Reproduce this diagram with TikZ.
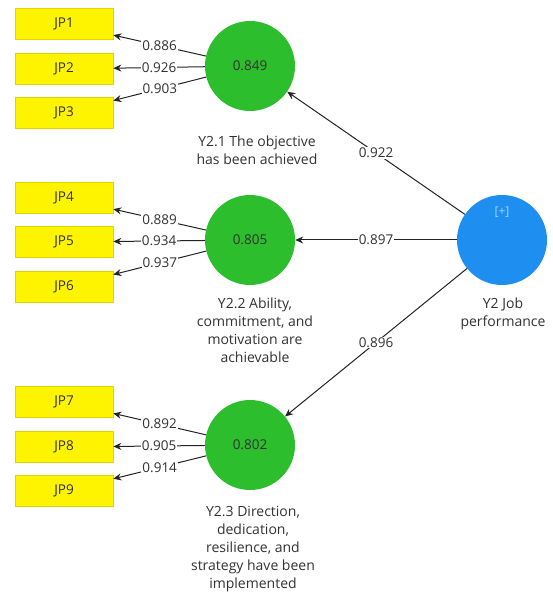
\documentclass[tikz,border=0pt]{standalone}
\usepackage{fontspec}
\setmainfont{Open Sans}
\usetikzlibrary{arrows.meta}
\definecolor{boxyellow}{RGB}{255,244,0}
\definecolor{boxedge}{RGB}{225,210,0}
\definecolor{lvgreen}{RGB}{45,190,45}
\definecolor{lvblue}{RGB}{30,143,240}
\definecolor{txt}{RGB}{50,50,50}
\definecolor{linec}{RGB}{35,35,35}
\definecolor{plus}{RGB}{170,210,255}
\tikzset{
  indbox/.style={draw=boxedge, line width=0.6pt, fill=boxyellow, minimum width=98pt, minimum height=31pt, inner sep=0pt, font=\fontsize{13.5}{15}\selectfont, text=txt},
  greenlv/.style={circle, fill=lvgreen, minimum size=90pt, inner sep=0pt, font=\fontsize{13.5}{15}\selectfont, text=txt},
  bluelv/.style={circle, fill=lvblue, minimum size=90pt, inner sep=0pt},
  lvlabel/.style={align=center, anchor=north, font=\fontsize{14}{18}\selectfont, text=txt, inner sep=0pt},
  conn/.style={draw=linec, line width=1pt, -{Stealth[length=8pt,width=7pt]}},
  wlab/.style={fill=white, inner sep=1pt, font=\fontsize{13.5}{15}\selectfont, text=txt, pos=0.5}
}
\begin{document}
\begin{tikzpicture}[x=1pt,y=-1pt]
\useasboundingbox (0,0) rectangle (552,601);
% indicators
\node[indbox] (jp1) at (64,24) {JP1};
\node[indbox] (jp2) at (64,69) {JP2};
\node[indbox] (jp3) at (64,113) {JP3};
\node[indbox] (jp4) at (64,198) {JP4};
\node[indbox] (jp5) at (64,242) {JP5};
\node[indbox] (jp6) at (64,287) {JP6};
\node[indbox] (jp7) at (64,402) {JP7};
\node[indbox] (jp8) at (64,447) {JP8};
\node[indbox] (jp9) at (64,491) {JP9};
% latent variables
\node[greenlv] (y21) at (250,66) {0.849};
\node[greenlv] (y22) at (250,240) {0.805};
\node[greenlv] (y23) at (250,445) {0.802};
\node[bluelv] (y2) at (502,240) {};
\node[font=\fontsize{12}{14}\selectfont, text=plus] (plusmark) at (502,212) {[+]};
% labels
\node[lvlabel] (l21) at (257,136) {Y2.1 The objective\\has been achieved};
\node[lvlabel] (l22) at (255,298) {Y2.2 Ability,\\commitment, and\\motivation are\\achievable};
\node[lvlabel] (l23) at (253,506) {Y2.3 Direction,\\dedication,\\resilience, and\\strategy have been\\implemented};
\node[lvlabel] (l2) at (503,298) {Y2 Job\\performance};
% outer loadings
\draw[conn] (y21) -- node[wlab] {0.886} (jp1);
\draw[conn] (y21) -- node[wlab] {0.926} (jp2);
\draw[conn] (y21) -- node[wlab] {0.903} (jp3);
\draw[conn] (y22) -- node[wlab] {0.889} (jp4);
\draw[conn] (y22) -- node[wlab] {0.934} (jp5);
\draw[conn] (y22) -- node[wlab] {0.937} (jp6);
\draw[conn] (y23) -- node[wlab] {0.892} (jp7);
\draw[conn] (y23) -- node[wlab] {0.905} (jp8);
\draw[conn] (y23) -- node[wlab] {0.914} (jp9);
% higher-order paths
\draw[conn] (y2) -- node[wlab] {0.922} (y21);
\draw[conn] (y2) -- node[wlab] {0.897} (y22);
\draw[conn] (y2) -- node[wlab] {0.896} (y23);
\end{tikzpicture}
\end{document}
